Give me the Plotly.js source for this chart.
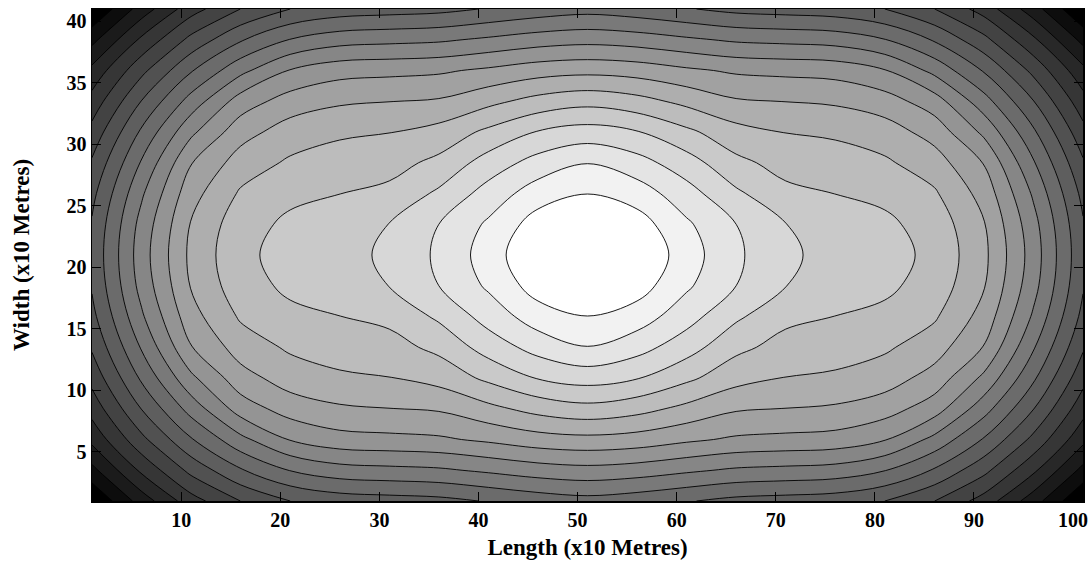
<!DOCTYPE html>
<html>
<head>
<meta charset="utf-8">
<script src="https://cdn.plot.ly/plotly-3.0.1.min.js"></script>
<style>
  html, body { margin: 0; padding: 0; background: #ffffff; }
  #chart { width: 1092px; height: 564px; }
</style>
</head>
<body>
<div id="chart"></div>
<script>
// Grid positions (x10 metres)
const lengthPos = [1, 6, 11, 16, 21, 26, 31, 36, 41, 46, 51, 56, 61, 66, 71, 76, 81, 86, 91, 96, 101];
const widthPos  = [1, 3.5, 6, 8.5, 11, 13.5, 16, 18.5, 21, 23.5, 26, 28.5, 31, 33.5, 36, 38.5, 41];

// Field level, one row per width position
const row_y01   = [0.00, 2.45, 4.58, 6.01, 7.00, 7.45, 7.59, 7.72, 8.07, 8.42, 8.65, 8.42, 8.07, 7.72, 7.59, 7.45, 7.00, 6.01, 4.58, 2.45, 0.00];
const row_y035  = [1.70, 4.20, 6.29, 7.90, 9.04, 9.59, 9.73, 9.85, 10.17, 10.51, 10.68, 10.51, 10.17, 9.85, 9.73, 9.59, 9.04, 7.90, 6.29, 4.20, 1.70];
const row_y06   = [3.28, 5.73, 7.91, 9.72, 11.06, 11.63, 11.74, 11.85, 12.18, 12.57, 12.72, 12.57, 12.18, 11.85, 11.74, 11.63, 11.06, 9.72, 7.91, 5.73, 3.28];
const row_y085  = [4.39, 7.03, 9.41, 11.47, 12.45, 12.86, 12.98, 13.11, 13.73, 14.35, 14.68, 14.35, 13.73, 13.11, 12.98, 12.86, 12.45, 11.47, 9.41, 7.03, 4.39];
const row_y11   = [5.34, 8.17, 10.78, 12.60, 13.48, 13.82, 13.97, 14.36, 15.22, 16.06, 16.42, 16.06, 15.22, 14.36, 13.97, 13.82, 13.48, 12.60, 10.78, 8.17, 5.34];
const row_y135  = [6.13, 9.10, 11.95, 13.47, 14.15, 14.51, 14.64, 15.25, 16.44, 17.39, 17.97, 17.39, 16.44, 15.25, 14.64, 14.51, 14.15, 13.47, 11.95, 9.10, 6.13];
const row_y16   = [6.72, 9.85, 12.63, 14.13, 14.77, 14.99, 15.25, 16.18, 17.41, 18.52, 18.98, 18.52, 17.41, 16.18, 15.25, 14.99, 14.77, 14.13, 12.63, 9.85, 6.72];
const row_y185  = [7.10, 10.35, 13.07, 14.60, 15.20, 15.44, 16.02, 17.00, 18.16, 19.47, 20.20, 19.47, 18.16, 17.00, 16.02, 15.44, 15.20, 14.60, 13.07, 10.35, 7.10];
const row_y21   = [7.23, 10.53, 13.24, 14.76, 15.38, 15.63, 16.20, 17.17, 18.47, 19.95, 20.60, 19.95, 18.47, 17.17, 16.20, 15.63, 15.38, 14.76, 13.24, 10.53, 7.23];
const row_y235  = [7.10, 10.35, 13.07, 14.60, 15.20, 15.44, 16.02, 17.00, 18.16, 19.47, 20.20, 19.47, 18.16, 17.00, 16.02, 15.44, 15.20, 14.60, 13.07, 10.35, 7.10];
const row_y26   = [6.72, 9.85, 12.63, 14.13, 14.77, 14.99, 15.25, 16.18, 17.41, 18.52, 18.98, 18.52, 17.41, 16.18, 15.25, 14.99, 14.77, 14.13, 12.63, 9.85, 6.72];
const row_y285  = [6.13, 9.10, 11.95, 13.47, 14.15, 14.51, 14.64, 15.25, 16.44, 17.39, 17.97, 17.39, 16.44, 15.25, 14.64, 14.51, 14.15, 13.47, 11.95, 9.10, 6.13];
const row_y31   = [5.34, 8.17, 10.78, 12.60, 13.48, 13.82, 13.97, 14.36, 15.22, 16.06, 16.42, 16.06, 15.22, 14.36, 13.97, 13.82, 13.48, 12.60, 10.78, 8.17, 5.34];
const row_y335  = [4.39, 7.03, 9.41, 11.47, 12.45, 12.86, 12.98, 13.11, 13.73, 14.35, 14.68, 14.35, 13.73, 13.11, 12.98, 12.86, 12.45, 11.47, 9.41, 7.03, 4.39];
const row_y36   = [3.28, 5.73, 7.91, 9.72, 11.06, 11.63, 11.74, 11.85, 12.18, 12.57, 12.72, 12.57, 12.18, 11.85, 11.74, 11.63, 11.06, 9.72, 7.91, 5.73, 3.28];
const row_y385  = [1.70, 4.20, 6.29, 7.90, 9.04, 9.59, 9.73, 9.85, 10.17, 10.51, 10.68, 10.51, 10.17, 9.85, 9.73, 9.59, 9.04, 7.90, 6.29, 4.20, 1.70];
const row_y41   = [0.00, 2.45, 4.58, 6.01, 7.00, 7.45, 7.59, 7.72, 8.07, 8.42, 8.65, 8.42, 8.07, 7.72, 7.59, 7.45, 7.00, 6.01, 4.58, 2.45, 0.00];

const xTicks = [10, 20, 30, 40, 50, 60, 70, 80, 90, 100];
const yTicks = [5, 10, 15, 20, 25, 30, 35, 40];
const xTitle = 'Length (x10 Metres)';
const yTitle = 'Width (x10 Metres)';

const zGrid = [row_y01, row_y035, row_y06, row_y085, row_y11, row_y135, row_y16, row_y185, row_y21,
               row_y235, row_y26, row_y285, row_y31, row_y335, row_y36, row_y385, row_y41];

const serif = 'Liberation Serif, Times New Roman, serif';

const trace = {
  type: 'contour',
  x: lengthPos,
  y: widthPos,
  z: zGrid,
  colorscale: [[0, 'rgb(0,0,0)'], [1, 'rgb(255,255,255)']],
  showscale: false,
  contours: { start: 1, end: 19, size: 1, coloring: 'fill', showlines: true },
  line: { color: '#000000', width: 0.9, smoothing: 1 },
  hoverinfo: 'skip'
};

const axisCommon = {
  showgrid: false,
  zeroline: false,
  showline: true,
  linecolor: '#000000',
  linewidth: 1.5,
  mirror: 'ticks',
  ticks: 'inside',
  ticklen: 9,
  tickwidth: 1,
  tickcolor: '#000000',
  tickfont: { family: serif, size: 20, color: '#000000', weight: 'bold' }
};

const layout = {
  width: 1092,
  height: 564,
  margin: { l: 92, r: 9, t: 9, b: 63 },
  paper_bgcolor: '#ffffff',
  plot_bgcolor: '#ffffff',
  xaxis: Object.assign({}, axisCommon, {
    range: [1, 101],
    tickmode: 'array',
    tickvals: xTicks,
    ticktext: xTicks.map(String),
    title: { text: xTitle, font: { family: serif, size: 23, color: '#000000', weight: 'bold' }, standoff: 9 }
  }),
  yaxis: Object.assign({}, axisCommon, {
    range: [1, 41],
    tickmode: 'array',
    tickvals: yTicks,
    ticktext: yTicks.map(String),
    title: { text: yTitle, font: { family: serif, size: 23, color: '#000000', weight: 'bold' }, standoff: 30 }
  }),
  showlegend: false
};

Plotly.newPlot('chart', [trace], layout, { displayModeBar: false, staticPlot: true });
</script>
</body>
</html>
